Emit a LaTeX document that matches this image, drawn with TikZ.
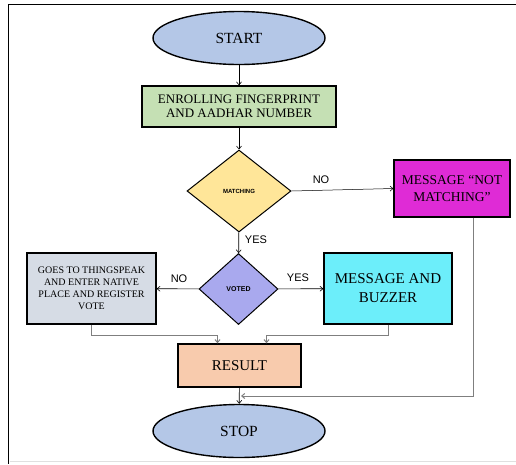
\documentclass[tikz,border=0pt]{standalone}
\usepackage{fontspec}
\setmainfont{Liberation Serif}
\newfontfamily\labelfont{Liberation Sans}
\usepackage{tikz}
\usetikzlibrary{arrows.meta,positioning,shapes.geometric,calc}

\definecolor{termblue}{HTML}{B4C7E7}
\definecolor{enrollgreen}{HTML}{C5E0B4}
\definecolor{matchyellow}{HTML}{FFE699}
\definecolor{msgmagenta}{HTML}{DF2BD6}
\definecolor{votedblue}{HTML}{A9A9EE}
\definecolor{tsgray}{HTML}{D6DCE5}
\definecolor{buzzcyan}{HTML}{6CEEFA}
\definecolor{resultpeach}{HTML}{F8CBAD}
\definecolor{linegray}{HTML}{7F7F7F}

\tikzset{
  term/.style={ellipse, draw, line width=1.4pt, fill=termblue, inner sep=0pt,
    minimum width=172pt, minimum height=53pt, font=\fontsize{15.5}{18}\selectfont},
  procbox/.style={rectangle, draw, line width=1.3pt, inner sep=2pt, align=center},
  decision/.style={diamond, draw, line width=1pt, inner sep=0pt,
    font=\labelfont\bfseries\fontsize{6}{7}\selectfont},
  flow/.style={-{Straight Barb[length=3pt,width=5pt]}, line width=0.6pt},
  grayflow/.style={-{Straight Barb[length=3pt,width=5pt]}, line width=1pt, linegray},
  yesno/.style={font=\labelfont\fontsize{11}{13}\selectfont}
}

\begin{document}
\begin{tikzpicture}[x=1pt, y=-1pt]
\useasboundingbox (0,0) rectangle (516,464);
% Frame
\draw[line width=1.6pt] (516,4.5) -- (8.5,4.5) -- (8.5,464);
\draw[black!12, line width=1pt] (10,461.5) -- (516,461.5);
% Start and enrolment
\node[term] (start) at (239,38) {START};
\node[procbox, fill=enrollgreen, minimum width=194pt, minimum height=41pt,
  font=\fontsize{13}{14.5}\selectfont] (enroll) at (239,106.5)
  {ENROLLING FINGERPRINT\\AND AADHAR NUMBER};
% Matching check
\node[decision, fill=matchyellow, minimum width=104pt, minimum height=82pt]
  (matching) at (239,191) {MATCHING};
\node[procbox, fill=msgmagenta, line width=1.2pt, minimum width=116pt,
  minimum height=57pt, font=\fontsize{13.5}{17.5}\selectfont]
  (notmatch) at (452,188.5) {MESSAGE ``NOT\\MATCHING''};
% Voted check
\node[decision, fill=votedblue, minimum width=79pt, minimum height=71pt,
  font=\labelfont\bfseries\fontsize{7}{8}\selectfont]
  (voted) at (238.5,289) {VOTED};
\node[procbox, fill=tsgray, line width=1.2pt, minimum width=129pt,
  minimum height=71pt, font=\fontsize{10}{12}\selectfont]
  (thingspeak) at (91.5,288.5)
  {GOES TO THINGSPEAK\\AND ENTER NATIVE\\PLACE AND REGISTER\\VOTE};
\node[procbox, fill=buzzcyan, line width=1.2pt, minimum width=128pt,
  minimum height=71pt, font=\fontsize{15}{19}\selectfont]
  (buzzer) at (388,288.5) {MESSAGE AND\\BUZZER};
% Result and stop
\node[procbox, fill=resultpeach, line width=1.4pt, minimum width=123pt,
  minimum height=43pt, font=\fontsize{15}{17}\selectfont]
  (result) at (239.5,365.5) {RESULT};
\node[term] (stop) at (239,431) {STOP};
% Connectors
\draw[flow] (start) -- (enroll);
\draw[flow] (enroll) -- (matching);
\draw[flow, line width=0.5pt] (matching.east) -- (notmatch.west);
\draw[flow] (matching) -- (voted);
\draw[flow] (voted) -- (thingspeak);
\draw[flow] (voted) -- (buzzer);
\draw[grayflow] (thingspeak.south) -- ++(0,11) -| ([xshift=-22pt]result.north);
\draw[grayflow] (buzzer.south) -- ++(0,11) -| ([xshift=27pt]result.north);
\draw[flow] (result) -- (stop);
\coordinate (join) at (241,396);
\draw[grayflow] ([xshift=21pt]notmatch.south) |- (join);
% Labels
\node[yesno] (nomatch) at (321,180) {NO};
\node[yesno] (yesmatch) at (256,240) {YES};
\node[yesno] (novoted) at (179,279) {NO};
\node[yesno] (yesvoted) at (298,278) {YES};
\end{tikzpicture}
\end{document}
